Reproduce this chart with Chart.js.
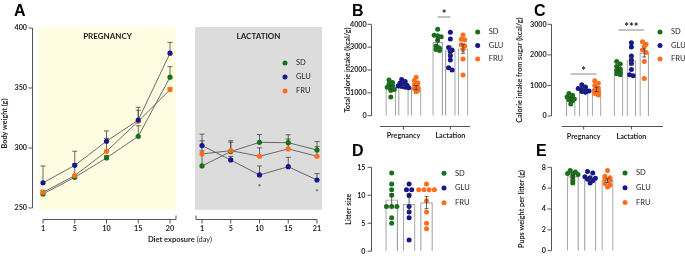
<!DOCTYPE html>
<html>
<head>
<meta charset="utf-8">
<script src="https://cdn.jsdelivr.net/npm/chart.js@4.4.1/dist/chart.umd.min.js"></script>
<style>
  html, body { margin: 0; padding: 0; background: #fff; }
  body { width: 685px; height: 261px; position: relative; overflow: hidden; font-family: Lato, "Open Sans", sans-serif; }
  canvas { position: absolute; }
  .tag { position: absolute; font: bold 16px "Liberation Sans", Arial, sans-serif; line-height: 1; color: #000; }
  #xtitle { position: absolute; left: 110px; width: 140px; top: 235px; text-align: center; font-size: 7.5px; color: #1e1e1e; }
</style>
</head>
<body>
<canvas id="a1" width="180" height="261" style="left:0;top:0"></canvas>
<canvas id="a2" width="160" height="261" style="left:180px;top:0"></canvas>
<canvas id="b" width="170" height="145" style="left:340px;top:0"></canvas>
<canvas id="c" width="175" height="145" style="left:510px;top:0"></canvas>
<canvas id="d" width="170" height="130" style="left:340px;top:140px"></canvas>
<canvas id="e" width="175" height="130" style="left:510px;top:140px"></canvas>
<div class="tag" style="left:14px;top:3px">A</div>
<div class="tag" style="left:352px;top:3px">B</div>
<div class="tag" style="left:534px;top:3px">C</div>
<div class="tag" style="left:352px;top:143px">D</div>
<div class="tag" style="left:536px;top:143px">E</div>
<div id="xtitle"><b>Diet exposure</b> (day)</div>
<script>
// ---- data ----
var diets = ["SD", "GLU", "FRU"];
var dietColors = ["#1b6f1b", "#17178c", "#ff6e1c"];

// A: body weight
var pregDays = ["1", "5", "10", "15", "20"];
var lactDays = ["1", "5", "10", "15", "21"];
var weightTicks = [250, 300, 350, 400];
var pregWeight = [
  [261.7, 275.5, 291.7, 309.7, 359.0],
  [271.0, 285.5, 305.6, 323.3, 379.0],
  [263.0, 277.0, 297.2, 322.2, 348.6]
];
var pregWeightSem = [
  [2.5, 2.0, 2.0, 8.8, 8.8],
  [14.0, 11.8, 8.6, 10.6, 9.0],
  [1.8, 10.0, 10.8, 9.2, 1.5]
];
var lactWeight = [
  [285.0, 297.0, 304.7, 304.4, 298.3],
  [302.0, 290.0, 277.5, 284.4, 273.3],
  [295.0, 297.8, 293.1, 299.2, 293.1]
];
var lactWeightSem = [
  [12.5, 9.0, 6.5, 6.6, 7.0],
  [9.5, 3.0, 7.5, 7.8, 5.3],
  [11.0, 7.0, 7.0, 8.3, 8.0]
];
var lactSigGlu = ["", "", "*", "", "*"];

// B, C: bars ordered Pregnancy SD/GLU/FRU, Lactation SD/GLU/FRU
var periods = ["Pregnancy", "Lactation"];
var totalKcalMean = [1250, 1330, 1230, 3220, 2850, 2930];
var totalKcalSem = [80, 50, 90, 140, 190, 200];
var totalKcalDots = [
  [1560, 1450, 1380, 1300, 1250, 1200, 1150, 1100, 820],
  [1580, 1500, 1420, 1380, 1330, 1300, 1280, 1250, 1220],
  [1680, 1540, 1430, 1350, 1250, 1180, 1100, 1050],
  [3780, 3520, 3500, 3450, 3300, 3050, 2950, 2900, 2850],
  [3650, 3360, 2990, 2880, 2800, 2620, 2440, 2100, 2000],
  [3530, 3350, 3320, 3100, 3050, 2900, 2480, 1780]
];
var totalKcalSig = [{ from: 3, to: 4, at: 4320, text: "*" }];

var sugarKcalMean = [560, 860, 870, 1530, 1810, 2060];
var sugarKcalSem = [40, 35, 70, 60, 130, 130];
var sugarKcalDots = [
  [740, 680, 620, 590, 560, 530, 500, 390],
  [1020, 950, 900, 870, 850, 820, 800, 780],
  [1150, 1070, 1000, 920, 850, 780, 740, 690],
  [1780, 1700, 1620, 1540, 1500, 1420, 1380, 1350],
  [2400, 2260, 1960, 1830, 1720, 1520, 1350, 1320],
  [2430, 2350, 2270, 2160, 2080, 1780, 1230]
];
var sugarKcalSig = [
  { from: 0, to: 2, at: 1374, text: "*" },
  { from: 3, to: 5, at: 2813, text: "***" }
];

// D, E
var litterMean = [9.2, 8.4, 8.7];
var litterSem = [1.1, 1.2, 1.1];
var litterDots = [
  [14, 12, 11, 10, 8, 8, 8, 6, 5],
  [12, 11, 11, 10, 8, 7, 6, 2],
  [12, 11, 11, 11, 11, 9, 7, 5, 4]
];
var pupMean = [7.1, 6.95, 6.75];
var pupSem = [0.15, 0.13, 0.2];
var pupDots = [
  [7.7, 7.55, 7.4, 7.35, 7.3, 7.1, 6.75, 6.5],
  [7.6, 7.45, 7.1, 7.0, 6.95, 6.85, 6.7, 6.5],
  [7.7, 7.15, 7.0, 6.9, 6.75, 6.45, 6.3, 6.1]
];

// ---- drawing ----
var FONT = "Lato, 'Open Sans', sans-serif";
var AXIS = "#555";
var TXT = "#1e1e1e";
var tickFont = { family: FONT, size: 7.2, weight: "bold" };

function drawLegend(ctx, lg) {
  ctx.font = "7.5px " + FONT;
  ctx.textAlign = "left";
  ctx.textBaseline = "middle";
  diets.forEach(function (d, k) {
    var y = lg.y + k * lg.step;
    ctx.fillStyle = dietColors[k];
    ctx.beginPath();
    ctx.arc(lg.x, y, 2.5, 0, Math.PI * 2);
    ctx.fill();
    ctx.fillStyle = TXT;
    ctx.fillText(d, lg.x + 11, y);
  });
}

function drawYAxis(ctx, ys, x, from, to) {
  ctx.beginPath();
  ctx.moveTo(x, ys.getPixelForValue(from));
  ctx.lineTo(x, ys.getPixelForValue(to));
  ys.ticks.forEach(function (t) {
    var p = ys.getPixelForValue(t.value);
    ctx.moveTo(x - 4, p);
    ctx.lineTo(x, p);
  });
  ctx.stroke();
}

function weightDeco(o) {
  return {
    id: "weightDeco",
    beforeDatasetsDraw: function (chart) {
      var ctx = chart.ctx, a = chart.chartArea, xs = chart.scales.x, ys = chart.scales.y;
      ctx.save();
      var bl = a.left - o.bgL, br = a.right + o.bgR;
      ctx.fillStyle = o.bg;
      ctx.fillRect(bl, a.top - 1, br - bl, ys.getPixelForValue(248.4) - a.top + 1);
      ctx.fillStyle = TXT;
      ctx.font = "bold 8px " + FONT;
      ctx.textAlign = "center";
      ctx.textBaseline = "middle";
      ctx.fillText(o.phase, (bl + br) / 2, a.top + 8.5);

      ctx.strokeStyle = AXIS;
      ctx.lineWidth = 1;
      if (o.showY) drawYAxis(ctx, ys, a.left - 10.5, 250, 400);
      var n = chart.data.labels.length;
      var xy = a.bottom + 0.5;
      ctx.beginPath();
      if (o.breakRight) {
        ctx.moveTo(xs.getPixelForValue(0), xy);
        ctx.lineTo(a.right + 6, xy);
        ctx.lineTo(a.right + 6, xy - 4);
      } else {
        ctx.moveTo(a.left - 6, xy - 4);
        ctx.lineTo(a.left - 6, xy);
        ctx.lineTo(xs.getPixelForValue(n - 1), xy);
      }
      for (var i = 0; i < n; i++) {
        var p = xs.getPixelForValue(i);
        ctx.moveTo(p, xy);
        ctx.lineTo(p, xy + 4);
      }
      ctx.stroke();

      // error bars (upper SEM)
      ctx.strokeStyle = "#444";
      ctx.lineWidth = 0.8;
      chart.data.datasets.forEach(function (ds) {
        ds.data.forEach(function (v, j) {
          var x = xs.getPixelForValue(j);
          var y0 = ys.getPixelForValue(v), y1 = ys.getPixelForValue(v + ds.errors[j]);
          ctx.beginPath();
          ctx.moveTo(x, y0);
          ctx.lineTo(x, y1);
          ctx.moveTo(x - 2.5, y1);
          ctx.lineTo(x + 2.5, y1);
          ctx.stroke();
        });
      });
      ctx.restore();
    },
    afterDatasetsDraw: function (chart) {
      var ctx = chart.ctx, xs = chart.scales.x, ys = chart.scales.y;
      ctx.save();
      if (o.sig) {
        ctx.fillStyle = "#555";
        ctx.font = "bold 8px " + FONT;
        ctx.textAlign = "center";
        ctx.textBaseline = "middle";
        o.sig.forEach(function (s, j) {
          if (!s) return;
          ctx.fillText(s, xs.getPixelForValue(j), ys.getPixelForValue(o.sigOf[j]) + 12);
        });
      }
      if (o.legend) drawLegend(ctx, o.legend);
      ctx.restore();
    }
  };
}

function weightChart(id, cv, area, labels, means, sems, o) {
  var datasets = diets.map(function (d, k) {
    return {
      label: d, data: means[k], errors: sems[k], order: [3, 1, 2][k],
      borderColor: "#5a5a5a", borderWidth: 0.9, tension: 0, fill: false, clip: false,
      pointRadius: 2.6, pointBackgroundColor: dietColors[k], pointBorderWidth: 0
    };
  });
  new Chart(document.getElementById(id), {
    type: "line",
    data: { labels: labels, datasets: datasets },
    options: {
      responsive: false, animation: false, events: [],
      layout: { padding: { left: o.showY ? 0 : area.l - cv.x, top: area.t - cv.y, right: cv.x + cv.w - area.r, bottom: cv.y + cv.h - area.b - 20 } },
      plugins: { legend: { display: false }, tooltip: { enabled: false } },
      scales: {
        x: {
          type: "category", offset: false,
          grid: { display: false, drawTicks: false }, border: { display: false },
          ticks: { color: TXT, font: tickFont, padding: 5, autoSkip: false, maxRotation: 0 },
          afterFit: function (s) { s.height = 20; }
        },
        y: {
          display: o.showY, min: 240.8, max: 400, bounds: "data",
          grid: { display: false, drawTicks: false }, border: { display: false },
          afterBuildTicks: function (s) { s.ticks = weightTicks.map(function (v) { return { value: v }; }); },
          ticks: { color: TXT, font: tickFont, padding: 16, callback: function (v) { return String(v); } },
          title: { display: true, text: "Body weight (g)", color: TXT, font: tickFont, padding: { top: 0.3, bottom: 0 } },
          afterFit: function (s) { s.width = area.l - cv.x; }
        }
      }
    },
    plugins: [weightDeco(o)]
  });
}

// spread dots with (nearly) equal values side by side
function swarm(vals, tol, step) {
  var out = [], i = 0;
  while (i < vals.length) {
    var j = i;
    while (j + 1 < vals.length && Math.abs(vals[j + 1] - vals[i]) <= tol) j++;
    var n = j - i + 1;
    for (var k = i; k <= j; k++) out.push({ dx: (k - i - (n - 1) / 2) * step, y: vals[k] });
    i = j + 1;
  }
  return out;
}

function barDeco(o, pos) {
  return {
    id: "barDeco",
    beforeDatasetsDraw: function (chart) {
      var ctx = chart.ctx, a = chart.chartArea, xs = chart.scales.x, ys = chart.scales.y;
      ctx.save();
      ctx.strokeStyle = AXIS;
      ctx.lineWidth = 1;
      drawYAxis(ctx, ys, Math.round(a.left - o.yGap) + 0.5, 0, o.yMax);
      if (o.groups) {
        var xy = Math.round(a.bottom + 10.3) + 0.5;
        ctx.beginPath();
        ctx.moveTo(a.left, xy);
        ctx.lineTo(a.right, xy);
        xs.ticks.forEach(function (t) {
          var p = xs.getPixelForValue(t.value);
          ctx.moveTo(p, xy);
          ctx.lineTo(p, xy + 3);
        });
        ctx.stroke();
      }
      ctx.restore();
    },
    afterDatasetsDraw: function (chart) {
      var ctx = chart.ctx, xs = chart.scales.x, ys = chart.scales.y;
      ctx.save();
      ctx.strokeStyle = "#3a3a3a";
      ctx.lineWidth = 0.8;
      o.mean.forEach(function (m, i) {
        var x = xs.getPixelForValue(pos[i]);
        var y0 = ys.getPixelForValue(m - o.sem[i]), y1 = ys.getPixelForValue(m + o.sem[i]);
        ctx.beginPath();
        ctx.moveTo(x, y0); ctx.lineTo(x, y1);
        ctx.moveTo(x - 2, y0); ctx.lineTo(x + 2, y0);
        ctx.moveTo(x - 2, y1); ctx.lineTo(x + 2, y1);
        ctx.stroke();
      });
      (o.sig || []).forEach(function (s) {
        var y = ys.getPixelForValue(s.at);
        var x0 = xs.getPixelForValue(pos[s.from]), x1 = xs.getPixelForValue(pos[s.to]);
        ctx.strokeStyle = "#8a8a8a";
        ctx.lineWidth = 1;
        ctx.beginPath();
        ctx.moveTo(x0, y); ctx.lineTo(x1, y);
        ctx.stroke();
        ctx.fillStyle = "#222";
        ctx.font = "bold 11px " + FONT;
        ctx.textAlign = "center";
        ctx.textBaseline = "alphabetic";
        ctx.fillText(s.text, (x0 + x1) / 2, y + 1);
      });
      drawLegend(ctx, o.legend);
      ctx.restore();
    }
  };
}

function barChart(id, cv, area, o) {
  var nGroups = o.groups ? o.groups.length : 1;
  var pos = [];
  for (var g = 0; g < nGroups; g++) {
    for (var k = 0; k < diets.length; k++) pos.push(g * 3.7 + k);
  }
  var datasets = [{
    type: "bar", data: pos.map(function (x, i) { return { x: x, y: o.mean[i] }; }),
    backgroundColor: "#fff", borderColor: "#a5a5a5", borderWidth: 1.2,
    barThickness: o.barW, grouped: false, order: 3
  }];
  diets.forEach(function (d, k) {
    var pts = [];
    pos.forEach(function (x, i) {
      if (i % 3 !== k) return;
      swarm(o.dots[i], o.tol, o.step).forEach(function (p) { pts.push({ x: x + p.dx, y: p.y }); });
    });
    datasets.push({
      type: "scatter", label: d, data: pts, order: 1, clip: false,
      backgroundColor: dietColors[k], pointRadius: 2.5, pointBorderWidth: 0
    });
  });
  var xH = o.groups ? 25 : 0;
  new Chart(document.getElementById(id), {
    type: "bar",
    data: { datasets: datasets },
    options: {
      responsive: false, animation: false, events: [],
      layout: { padding: { left: 0, top: area.t - cv.y, right: cv.x + cv.w - area.r, bottom: cv.y + cv.h - area.b - xH } },
      plugins: { legend: { display: false }, tooltip: { enabled: false } },
      scales: {
        x: {
          type: "linear", display: !!o.groups, offset: false, bounds: "data",
          min: o.xMin, max: o.xMax,
          grid: { display: false, drawTicks: false }, border: { display: false },
          afterBuildTicks: function (s) {
            s.ticks = (o.groups || []).map(function (g, i) { return { value: i * 3.7 + 1 }; });
          },
          ticks: {
            color: TXT, font: tickFont, padding: 16, autoSkip: false, maxRotation: 0,
            callback: function (v, i) { return o.groups ? o.groups[i] : ""; }
          },
          afterFit: function (s) { s.height = xH; }
        },
        y: {
          min: 0, max: o.yMax,
          grid: { display: false, drawTicks: false }, border: { display: false },
          ticks: { stepSize: o.yStep, color: TXT, font: tickFont, padding: o.tickPad, callback: function (v) { return String(v); } },
          title: { display: true, text: o.yTitle, color: TXT, font: tickFont, padding: { top: o.titlePad, bottom: 0 } },
          afterFit: function (s) { s.width = area.l - cv.x; }
        }
      }
    },
    plugins: [barDeco(o, pos)]
  });
}

// A
weightChart("a1", { x: 0, y: 0, w: 180, h: 261 }, { l: 43, t: 28, r: 170, b: 219 },
  pregDays, pregWeight, pregWeightSem,
  { showY: true, phase: "PREGNANCY", bg: "#fffde1", bgL: 4, bgR: 6, breakRight: true });
weightChart("a2", { x: 180, y: 0, w: 160, h: 261 }, { l: 191, t: 28, r: 317, b: 219 },
  lactDays, lactWeight, lactWeightSem,
  { showY: false, phase: "LACTATION", bg: "#dcdcdc", bgL: 7, bgR: 5, breakRight: false,
    sig: lactSigGlu, sigOf: lactWeight[1], legend: { x: 105, y: 63, step: 14 } });

// B
barChart("b", { x: 340, y: 0, w: 170, h: 145 }, { l: 380, t: 24.3, r: 470, b: 115.7 }, {
  groups: periods, mean: totalKcalMean, sem: totalKcalSem, dots: totalKcalDots, sig: totalKcalSig,
  xMin: -0.85, xMax: 6.25, barW: 10, tol: 110, step: 0.28, yMax: 4000, yStep: 1000, tickPad: 13.3, yGap: 9.3,
  yTitle: "Total calorie intake (kcal/g)", titlePad: 3.8, legend: { x: 137.7, y: 32, step: 13.5 }
});
// C
barChart("c", { x: 510, y: 0, w: 175, h: 145 }, { l: 561.7, t: 24.3, r: 663, b: 116 }, {
  groups: periods, mean: sugarKcalMean, sem: sugarKcalSem, dots: sugarKcalDots, sig: sugarKcalSig,
  xMin: -0.7, xMax: 7.15, barW: 9, tol: 80, step: 0.28, yMax: 3000, yStep: 1000, tickPad: 15, yGap: 11,
  yTitle: "Calorie intake from sugar (kcal/g)", titlePad: 5.8, legend: { x: 150, y: 32, step: 13.5 }
});
// D
barChart("d", { x: 340, y: 140, w: 170, h: 130 }, { l: 380, t: 167.3, r: 438.2, b: 257.3 }, {
  groups: null, mean: litterMean, sem: litterSem, dots: litterDots,
  xMin: -0.67, xMax: 2.67, barW: 12, tol: 0.4, step: 0.3, yMax: 15, yStep: 5, tickPad: 14.5, yGap: 9.5,
  yTitle: "Litter size", titlePad: 4.8, legend: { x: 104, y: 33.3, step: 14.7 }
});
// E
barChart("e", { x: 510, y: 140, w: 175, h: 130 }, { l: 561, t: 167.3, r: 619.3, b: 257.3 }, {
  groups: null, mean: pupMean, sem: pupSem, dots: pupDots,
  xMin: -0.68, xMax: 2.68, barW: 11.5, tol: 0.2, step: 0.3, yMax: 8, yStep: 2, tickPad: 15, yGap: 10.3,
  yTitle: "Pups weight per litter (g)", titlePad: 7.8, legend: { x: 115, y: 33, step: 14.7 }
});
</script>
</body>
</html>
